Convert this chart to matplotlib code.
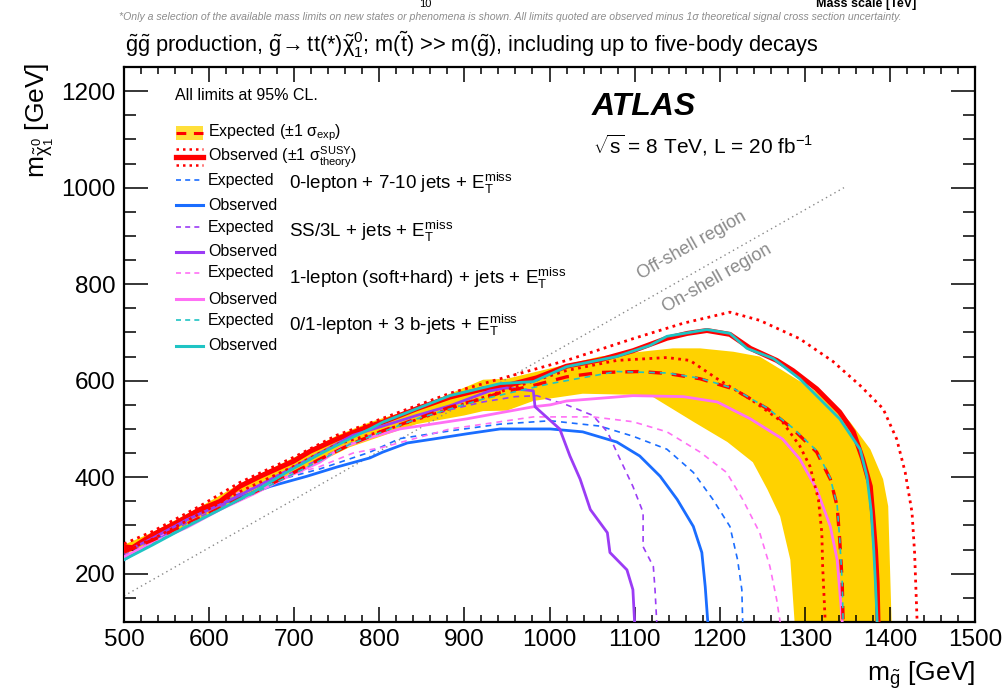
import matplotlib
matplotlib.use("Agg")
import matplotlib.pyplot as plt
from matplotlib.patches import Rectangle
from matplotlib.ticker import MultipleLocator

plt.rcParams["font.family"] = ["Liberation Sans", "DejaVu Sans"]
plt.rcParams["mathtext.fontset"] = "custom"
plt.rcParams["mathtext.rm"] = "Liberation Sans"
plt.rcParams["mathtext.it"] = "Liberation Sans"
plt.rcParams["mathtext.bf"] = "Liberation Sans:bold"
plt.rcParams["mathtext.sf"] = "Liberation Sans"

# ── Limit contours, (m_gluino, m_neutralino) in GeV ───────────────────────────
comb_obs = [(500, 256), (510, 254), (534, 281), (562, 306), (589, 333), (613, 350),
            (636, 381), (660, 402), (699, 433), (719, 454), (750, 479), (789, 506),
            (804, 514), (844, 542), (883, 566), (922, 583), (950, 590), (985, 606),
            (1020, 630), (1059, 643), (1098, 662), (1138, 688), (1162, 698), (1185, 704),
            (1212, 696), (1236, 667), (1267, 642), (1286, 621), (1314, 583), (1341, 535),
            (1357, 494), (1368, 438), (1377, 381), (1380, 319), (1383, 250), (1385, 181),
            (1386, 100)]
comb_obs_up = [(500, 262), (534, 288), (589, 340), (636, 389), (699, 441), (750, 487),
               (804, 522), (883, 574), (942, 604), (1020, 642), (1098, 687), (1157, 719),
               (1212, 742), (1247, 725), (1294, 687), (1333, 640), (1365, 590), (1392, 542),
               (1408, 479), (1418, 410), (1426, 327), (1429, 244), (1432, 100)]
comb_obs_dn = [(500, 248), (534, 272), (589, 324), (636, 370), (699, 422), (750, 468),
               (804, 496), (883, 542), (942, 577), (1020, 621), (1079, 642), (1138, 648),
               (1165, 642), (1197, 604), (1236, 562), (1274, 514), (1294, 465), (1306, 423),
               (1316, 354), (1320, 285), (1321, 215), (1324, 100)]
comb_exp = [(500, 245), (534, 270), (574, 303), (613, 336), (652, 368), (691, 402),
            (730, 437), (765, 467), (804, 496), (844, 521), (883, 545), (922, 563),
            (942, 575), (981, 590), (1020, 608), (1059, 617), (1106, 619), (1138, 615),
            (1177, 604), (1216, 583), (1256, 542), (1286, 500), (1314, 452), (1330, 396),
            (1338, 340), (1341, 271), (1344, 181), (1345, 100)]
band_up = [(500, 260), (534, 286), (589, 338), (636, 386), (699, 440), (750, 486),
           (789, 514), (844, 544), (922, 602), (950, 604), (1000, 625), (1059, 650),
           (1118, 662), (1145, 667), (1177, 667), (1216, 660), (1247, 650), (1274, 621),
           (1314, 577), (1353, 515), (1377, 458), (1392, 396), (1398, 340), (1402, 100)]
band_dn = [(500, 240), (534, 262), (589, 310), (636, 352), (699, 405), (765, 462),
           (844, 510), (900, 528), (922, 537), (950, 538), (981, 558), (1039, 573),
           (1118, 570), (1169, 515), (1209, 473), (1239, 431), (1256, 375), (1271, 319),
           (1283, 229), (1288, 100)]

lep0_obs = [(500, 229), (534, 265), (574, 312), (613, 344), (636, 358), (672, 381),
            (715, 402), (750, 421), (789, 440), (804, 452), (833, 471), (863, 479),
            (903, 490), (942, 500), (1001, 500), (1039, 494), (1079, 473), (1106, 444),
            (1130, 402), (1150, 354), (1169, 298), (1179, 244), (1183, 173), (1186, 100)]
lep0_exp = [(500, 229), (534, 266), (574, 315), (613, 352), (672, 390), (730, 417),
            (789, 452), (824, 480), (883, 496), (942, 510), (1001, 517), (1059, 506),
            (1098, 485), (1138, 458), (1169, 410), (1192, 354), (1212, 298), (1221, 229),
            (1226, 167), (1227, 100)]
ss3l_obs = [(500, 244), (534, 274), (574, 312), (613, 343), (652, 377), (691, 413),
            (730, 450), (769, 487), (804, 506), (844, 528), (883, 548), (930, 579),
            (950, 585), (981, 579), (983, 546), (1012, 500), (1024, 444), (1036, 396),
            (1048, 333), (1068, 285), (1071, 244), (1091, 208), (1098, 167), (1100, 100)]
ss3l_exp = [(500, 238), (534, 268), (574, 305), (613, 338), (652, 370), (691, 404),
            (730, 438), (769, 472), (804, 497), (844, 520), (883, 540), (922, 556),
            (960, 567), (985, 569), (1020, 550), (1051, 528), (1068, 494), (1083, 437),
            (1098, 381), (1110, 327), (1110, 256), (1122, 215), (1124, 167), (1126, 100)]
lep1_obs = [(500, 235), (534, 265), (574, 296), (613, 333), (652, 365), (691, 400),
            (730, 431), (754, 460), (789, 482), (824, 500), (903, 521), (981, 546),
            (1001, 550), (1020, 558), (1098, 569), (1157, 567), (1197, 556), (1236, 521),
            (1274, 479), (1294, 438), (1314, 375), (1330, 298), (1338, 229), (1341, 167),
            (1344, 100)]
lep1_exp = [(500, 231), (534, 267), (574, 316), (613, 354), (672, 393), (730, 422),
            (769, 450), (804, 462), (883, 500), (942, 515), (981, 525), (1051, 525),
            (1098, 515), (1138, 494), (1177, 452), (1208, 410), (1227, 354), (1247, 285),
            (1259, 215), (1267, 146), (1271, 100)]
b3_obs = [(500, 229), (534, 260), (574, 298), (613, 333), (652, 369), (691, 410),
          (730, 448), (769, 483), (789, 500), (804, 514), (883, 569), (942, 594),
          (981, 598), (1020, 629), (1079, 650), (1118, 673), (1138, 692), (1185, 706),
          (1212, 698), (1232, 667), (1263, 646), (1294, 604), (1341, 521), (1365, 458),
          (1373, 402), (1378, 330), (1381, 250), (1383, 181), (1385, 100)]
b3_exp = [(500, 229), (534, 262), (574, 300), (613, 334), (652, 366), (691, 400),
          (730, 434), (765, 468), (844, 521), (922, 562), (1001, 594), (1079, 619),
          (1138, 616), (1177, 605), (1216, 584), (1256, 543), (1286, 502), (1314, 455),
          (1330, 398), (1338, 342), (1341, 272), (1344, 181), (1345, 100)]

kinematic_line = [(500, 154), (1346, 1000)]

legend_rows = ["Expected", "Observed"] * 4
analyses = [r"0-lepton + 7-10 jets + E$_{\mathrm{T}}^{\mathrm{miss}}$",
            r"SS/3L + jets + E$_{\mathrm{T}}^{\mathrm{miss}}$",
            r"1-lepton (soft+hard) + jets + E$_{\mathrm{T}}^{\mathrm{miss}}$",
            r"0/1-lepton + 3 b-jets + E$_{\mathrm{T}}^{\mathrm{miss}}$"]

RED = "#ff0000"
YELLOW = "#ffd200"
BLUE = "#1a6dff"
PURPLE = "#9b3cf5"
PINK = "#ff70f5"
CYAN = "#1fc4c4"


def xy(pts):
    return [p[0] for p in pts], [p[1] for p in pts]


W, H = 1005, 693
L, R, T, B = 124, 975, 67, 622
fig = plt.figure(figsize=(W / 100, H / 100), dpi=100)
ax = fig.add_axes([L / W, 1 - B / H, (R - L) / W, (B - T) / H])


def axf(px, py):
    """figure pixel (from top-left) -> axes fraction"""
    return (px - L) / (R - L), (B - py) / (B - T)


# yellow band: upper edge then lower edge reversed
bu_x, bu_y = xy(band_up)
bd_x, bd_y = xy(band_dn)
ax.fill(bu_x + bd_x[::-1], bu_y + bd_y[::-1], color=YELLOW, lw=0, zorder=1)

kx, ky = xy(kinematic_line)
ax.plot(kx, ky, color="#888888", lw=1.0, ls=(0, (1, 2.5)), zorder=2)

ax.plot(*xy(comb_exp), color=RED, lw=2.4, ls=(0, (4, 3)), zorder=6)
ax.plot(*xy(comb_obs_up), color=RED, lw=2.0, ls=(0, (1, 1.6)), zorder=6)
ax.plot(*xy(comb_obs_dn), color=RED, lw=2.0, ls=(0, (1, 1.6)), zorder=6)
ax.plot(*xy(comb_obs), color=RED, lw=3.6, zorder=5, solid_joinstyle="round")

dash = (0, (3.5, 3))
ax.plot(*xy(lep0_exp), color=BLUE, lw=1.2, ls=dash, zorder=4)
ax.plot(*xy(lep0_obs), color=BLUE, lw=2.0, zorder=4)
ax.plot(*xy(ss3l_exp), color=PURPLE, lw=1.2, ls=dash, zorder=4)
ax.plot(*xy(ss3l_obs), color=PURPLE, lw=2.0, zorder=5)
ax.plot(*xy(lep1_exp), color=PINK, lw=1.2, ls=dash, zorder=4)
ax.plot(*xy(lep1_obs), color=PINK, lw=2.0, zorder=4)
ax.plot(*xy(b3_exp), color=CYAN, lw=1.2, ls=dash, zorder=7)
ax.plot(*xy(b3_obs), color=CYAN, lw=2.0, zorder=7)

ax.set_xlim(500, 1500)
ax.set_ylim(100, 1250)
ax.xaxis.set_major_locator(MultipleLocator(100))
ax.xaxis.set_minor_locator(MultipleLocator(20))
ax.yaxis.set_major_locator(MultipleLocator(200))
ax.yaxis.set_minor_locator(MultipleLocator(50))
ax.tick_params(which="both", direction="in", top=True, right=True, width=1.1,
               labelsize=17.5, colors="black")
ax.tick_params(axis="x", which="major", length=11, pad=5)
ax.tick_params(axis="x", which="minor", length=5)
ax.tick_params(axis="y", which="major", length=17, pad=6)
ax.tick_params(axis="y", which="minor", length=8.5)
for s in ax.spines.values():
    s.set_linewidth(1.6)

# region labels along the kinematic line
ax.text(1167, 881, "Off-shell region", rotation=29.5, color="#8a8a8a", fontsize=13,
        ha="center", va="center", rotation_mode="anchor")
ax.text(1197, 812, "On-shell region", rotation=29.5, color="#8a8a8a", fontsize=13,
        ha="center", va="center", rotation_mode="anchor")

# ── legend, drawn by hand like the ROOT original ─────────────────────────────
tr = ax.transAxes
ax.text(*axf(175, 95), "All limits at 95% CL.", transform=tr, fontsize=11.5,
        ha="left", va="center")

x0, x1 = axf(176, 0)[0], axf(203, 0)[0]
hx = (x0, x1)
y_exp = axf(0, 133)[1]
ax.add_patch(Rectangle((x0, axf(0, 140)[1]), x1 - x0, axf(0, 126)[1] - axf(0, 140)[1],
                       transform=tr, color="#ffdf3a", lw=0, clip_on=False))
ax.plot(hx, [y_exp] * 2, transform=tr, color=RED, lw=2.2, ls=(0, (3.2, 2.5)), clip_on=False)
ax.text(axf(208, 0)[0], y_exp, r"Expected ($\pm$1 $\sigma_{\mathrm{exp}}$)", transform=tr,
        fontsize=11.5, ha="left", va="center")
y_obs = axf(0, 157)[1]
ax.plot(hx, [y_obs] * 2, transform=tr, color=RED, lw=3.8, clip_on=False)
for yy in (149, 165):
    ax.plot(hx, [axf(0, yy)[1]] * 2, transform=tr, color=RED, lw=1.8, ls=(0, (1, 1.6)),
            clip_on=False)
ax.text(axf(208, 0)[0], y_obs, r"Observed ($\pm$1 $\sigma^{\mathrm{SUSY}}_{\mathrm{theory}}$)",
        transform=tr, fontsize=11.5, ha="left", va="center")

row_y = [180, 205, 227, 252, 273, 299, 320, 346]
row_col = [BLUE, BLUE, PURPLE, PURPLE, PINK, PINK, CYAN, CYAN]
for lab, py, c in zip(legend_rows, row_y, row_col):
    yy = axf(0, py)[1]
    if lab == "Expected":
        ax.plot(hx, [yy] * 2, transform=tr, color=c, lw=1.2, ls=(0, (3, 2.5)), clip_on=False)
    else:
        ax.plot(hx, [yy] * 2, transform=tr, color=c, lw=2.2, clip_on=False)
    ax.text(axf(208, 0)[0], yy, lab, transform=tr, fontsize=11.5, ha="left", va="center")

for lab, py in zip(analyses, [183, 231, 278, 325]):
    ax.text(*axf(289, py), lab, transform=tr, fontsize=13.5, ha="left", va="center")

ax.text(*axf(592, 107), "ATLAS", transform=tr, fontsize=23, fontweight="bold",
        fontstyle="italic", ha="left", va="center")
ax.text(*axf(593, 145), r"$\sqrt{\mathrm{s}}$ = 8 TeV, L = 20 fb$^{-1}$", transform=tr,
        fontsize=15, ha="left", va="center")

# axis titles
fig.text(975 / W, 1 - 675 / H, r"m$_{\tilde{\mathrm{g}}}$ [GeV]", fontsize=19,
         ha="right", va="center")
fig.text(40 / W, 1 - 63 / H, r"m$_{\tilde{\chi}^{0}_{1}}$ [GeV]", fontsize=19,
         rotation=90, ha="center", va="top")

# title and header (the header is cut off at the top edge in the original)
fig.text(125 / W, 1 - 45 / H,
         r"$\tilde{\mathrm{g}}\tilde{\mathrm{g}}$ production, $\tilde{\mathrm{g}}\!\rightarrow$"
         r"tt(*)$\tilde{\chi}^{0}_{1}$; m($\tilde{\mathrm{t}}$) >> m($\tilde{\mathrm{g}}$), "
         r"including up to five-body decays",
         fontsize=15.7, ha="left", va="center")
fig.text(510 / W, 1 - 17 / H,
         "*Only a selection of the available mass limits on new states or phenomena is shown. "
         "All limits quoted are observed minus 1\u03c3 theoretical signal cross section uncertainty.",
         fontsize=7.6, color="#8c8c8c", style="italic", ha="center", va="center")
fig.text(916 / W, 1 - 7 / H, "Mass scale [TeV]", fontsize=9, fontweight="bold",
         ha="right", va="baseline")
fig.text(425 / W, 1 - 7 / H, "10", fontsize=8, ha="center", va="baseline")

fig.savefig("out.png", dpi=100)
